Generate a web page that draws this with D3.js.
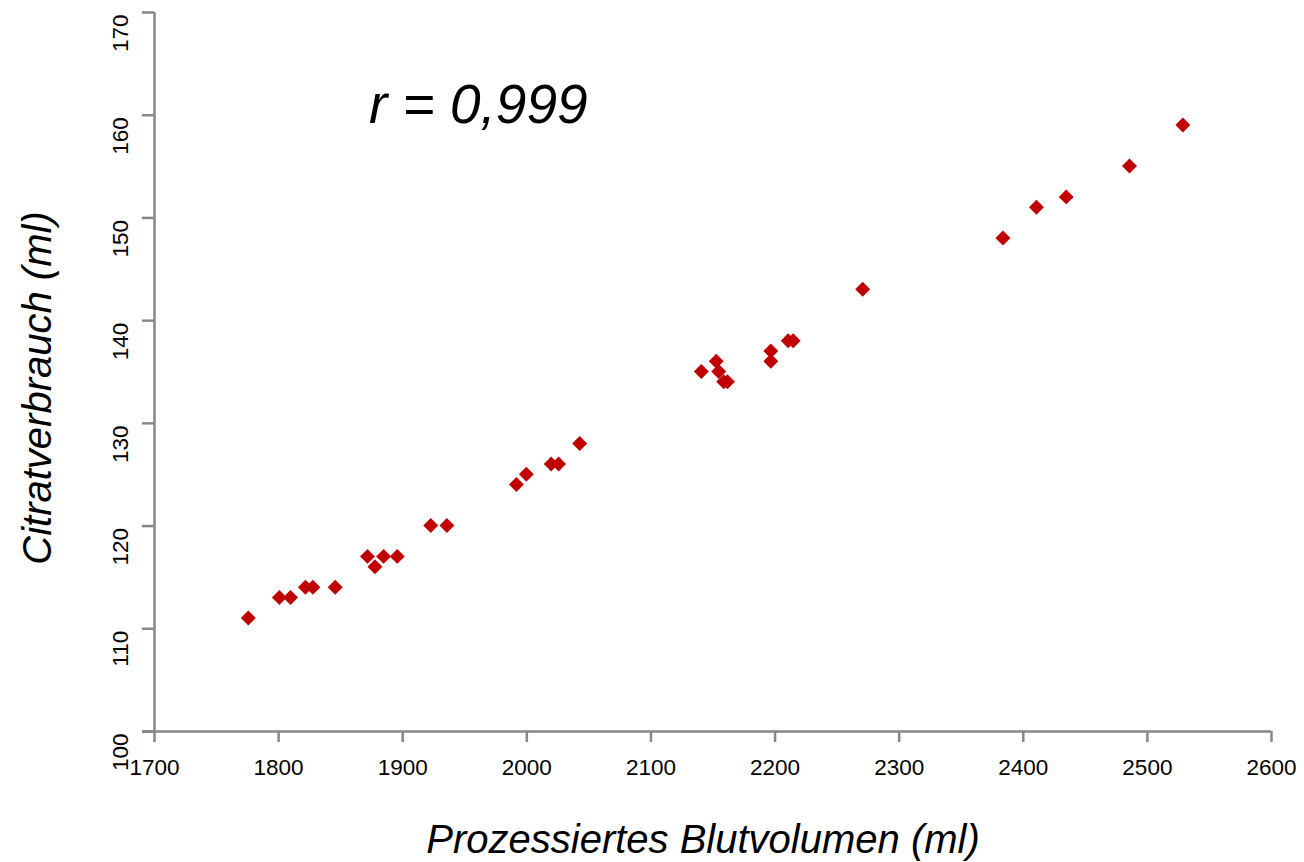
<!DOCTYPE html>
<html><head><meta charset="utf-8">
<script src="https://cdn.jsdelivr.net/npm/d3@7"></script>
<style>
html,body{margin:0;padding:0;background:#fff;}
svg{display:block;font-family:"Liberation Sans",Arial,sans-serif;}
</style></head>
<body>
<svg id="chart" width="1304" height="862"></svg>
<script>
// Data: processed blood volume (ml) vs citrate consumption (ml)
const bloodVolume = [1776,1801,1810,1822,1828,1846,1872,1878,1885,1896,1923,1936,1992,2000,2020,2026,2043,2141,2153,2155,2159,2162,2197,2197,2211,2215,2271,2384,2411,2435,2486,2529];
const citrateUse  = [111,113,113,114,114,114,117,116,117,117,120,120,124,125,126,126,128,135,136,135,134,134,137,136,138,138,143,148,151,152,155,159];
const xTicks = [1700,1800,1900,2000,2100,2200,2300,2400,2500,2600];
const yTicks = [100,110,120,130,140,150,160,170];
const xTitle = "Prozessiertes Blutvolumen (ml)";
const yTitle = "Citratverbrauch (ml)";
const annotation = "r = 0,999";

(function(){
const svg = d3.select("#chart");
const mLeft = 154, mRight = 1271, mTop = 12, mBottom = 731;
const x = d3.scaleLinear().domain([1700,2600]).range([mLeft,mRight]);
const y = d3.scaleLinear().domain([100,170]).range([mBottom,mTop]);
const axisColor = "#878787";

// X axis
const gx = svg.append("g").attr("transform",`translate(0,${mBottom})`)
  .call(d3.axisBottom(x).tickValues(xTicks).tickSize(11).tickSizeOuter(0).tickFormat(d3.format("d")));
gx.select(".domain").attr("stroke",axisColor).attr("stroke-width",2.5)
  .attr("d",`M${mLeft-12},0.5H${mRight}`);
gx.selectAll(".tick line").attr("stroke",axisColor).attr("stroke-width",2.5);
gx.selectAll(".tick text").attr("fill","#000").attr("font-size",22.5)
  .attr("font-family","'Liberation Sans',Arial,sans-serif").attr("y",44).attr("dy",null);

// Y axis
const gy = svg.append("g").attr("transform",`translate(${mLeft},0)`)
  .call(d3.axisLeft(y).tickValues(yTicks).tickSize(12).tickSizeOuter(0).tickFormat(d3.format("d")));
gy.select(".domain").attr("stroke",axisColor).attr("stroke-width",2.5)
  .attr("d",`M0.5,${mTop}V${mBottom}`);
gy.selectAll(".tick line").attr("stroke",axisColor).attr("stroke-width",2.5);
gy.selectAll(".tick text").attr("fill","#000").attr("font-size",22.5)
  .attr("font-family","'Liberation Sans',Arial,sans-serif")
  .attr("x",0).attr("y",0).attr("dy",null)
  .attr("text-anchor","end")
  .attr("transform","translate(-26,2) rotate(-90)");

// Points (diamonds)
const diamond = d3.symbol().type(d3.symbolSquare).size(112);
svg.append("g").selectAll("path")
  .data(bloodVolume.map((v,i)=>({x:v,y:citrateUse[i]})))
  .join("path")
  .attr("d",diamond)
  .attr("fill","#C00000")
  .attr("transform",d=>`translate(${x(d.x)},${y(d.y)}) rotate(45)`);

// Axis titles
svg.append("text").attr("x",703).attr("y",853)
  .attr("text-anchor","middle").attr("font-size",40).attr("font-style","italic")
  .attr("fill","#000").text(xTitle);
svg.append("text").attr("transform",`translate(51,388) rotate(-90)`)
  .attr("text-anchor","middle").attr("font-size",40).attr("font-style","italic")
  .attr("fill","#000").text(yTitle);

// Annotation
svg.append("text").attr("x",369).attr("y",123)
  .attr("font-size",55).attr("font-style","italic").attr("fill","#000").text(annotation);
})();
</script>
</body></html>
